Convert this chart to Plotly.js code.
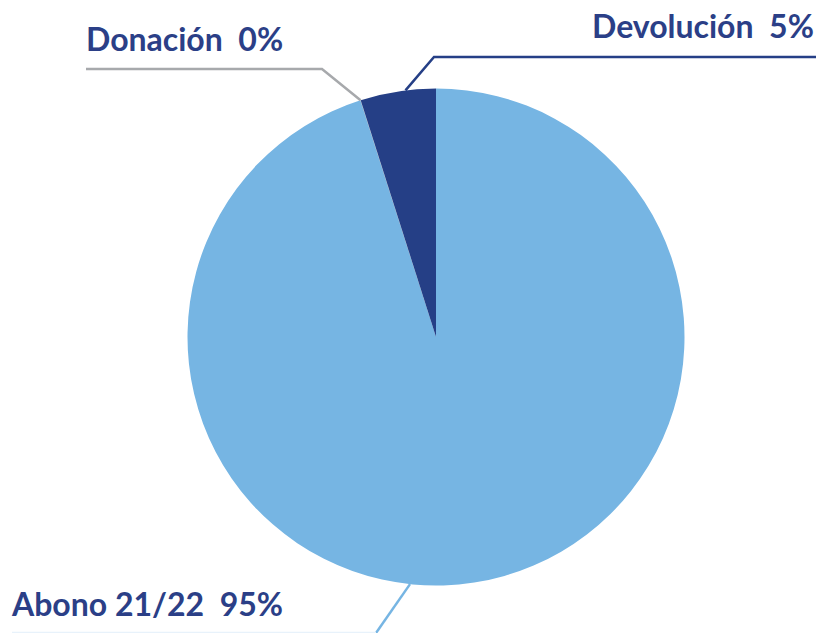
<!DOCTYPE html>
<html><head><meta charset="utf-8">
<script src="https://cdn.plot.ly/plotly-3.0.1.min.js"></script>
<style>html,body{margin:0;padding:0;background:#fff;}#chart{width:820px;height:633px;}</style>
</head><body><div id="chart"></div>
<script>
// Data (order clockwise from 12 o'clock)
const categories = ["Abono 21/22", "Donación", "Devolución"];
const values = [95.08, 0.02, 4.9];
const pctLabels = ["95%", "0%", "5%"];
const colors = ["#76B5E3", "#A7A9AC", "#253F86"];

// Layout geometry (pixels)
const W = 820, H = 633;
const cx = 436, cy = 337, R = 248.5;
const px = x => x / W;
const py = y => 1 - y / H;

const total = values.reduce((a, b) => a + b, 0);
// point on circle, fraction measured clockwise from 12 o'clock
function pt(frac, r) {
  const a = frac * 2 * Math.PI;
  return [cx + r * Math.sin(a), cy - r * Math.cos(a)];
}
const cum = [];
let c = 0;
values.forEach(v => { cum.push(c / total); c += v; });

const abAttach = pt(186 / 360, R);
const donAttach = pt(cum[1] + values[1] / total * 0.5, R);
const devAttach = pt(cum[2] + values[2] / total * 0.6, R);

const shapes = [];
function leader(points, color, width) {
  let path = "M " + points.map(p => px(p[0]) + "," + py(p[1])).join(" L ");
  shapes.push({type: "path", xref: "paper", yref: "paper", path: path,
    line: {color: color, width: width || 2.5}});
}
leader([devAttach, [434, 57], [816, 57]], colors[2]);
leader([donAttach, [322, 69], [86, 69]], colors[1]);
leader([abAttach, [376, 633]], colors[0]);
leader([[376, 632.5], [12, 632.5]], "#E8F2FB", 1.5);

const fontFam = "Lato, 'Open Sans', sans-serif";
const txtColor = "#2B3F87";
const annotations = [
  {text: "<b>" + categories[2] + "  " + pctLabels[2] + "</b>", x: px(816), y: py(25), xanchor: "right", yanchor: "middle"},
  {text: "<b>" + categories[1] + "  " + pctLabels[1] + "</b>", x: px(84), y: py(39), xanchor: "left", yanchor: "middle"},
  {text: "<b>" + categories[0] + "  " + pctLabels[0] + "</b>", x: px(9), y: py(603), xanchor: "left", yanchor: "middle"}
].map(a => Object.assign(a, {xref: "paper", yref: "paper", showarrow: false,
  font: {family: fontFam, size: 32, color: txtColor}}));

const trace = {
  type: "pie",
  labels: categories,
  values: values,
  sort: false,
  direction: "clockwise",
  rotation: 0,
  marker: {colors: colors, line: {width: 0}},
  textinfo: "none",
  hoverinfo: "label+percent",
  domain: {x: [(cx - R) / W, (cx + R) / W], y: [(H - cy - R) / H, (H - cy + R) / H]}
};

Plotly.newPlot("chart", [trace], {
  width: W, height: H,
  margin: {l: 0, r: 0, t: 0, b: 0},
  showlegend: false,
  paper_bgcolor: "#ffffff",
  shapes: shapes,
  annotations: annotations
}, {displayModeBar: false, staticPlot: true});
</script></body></html>
